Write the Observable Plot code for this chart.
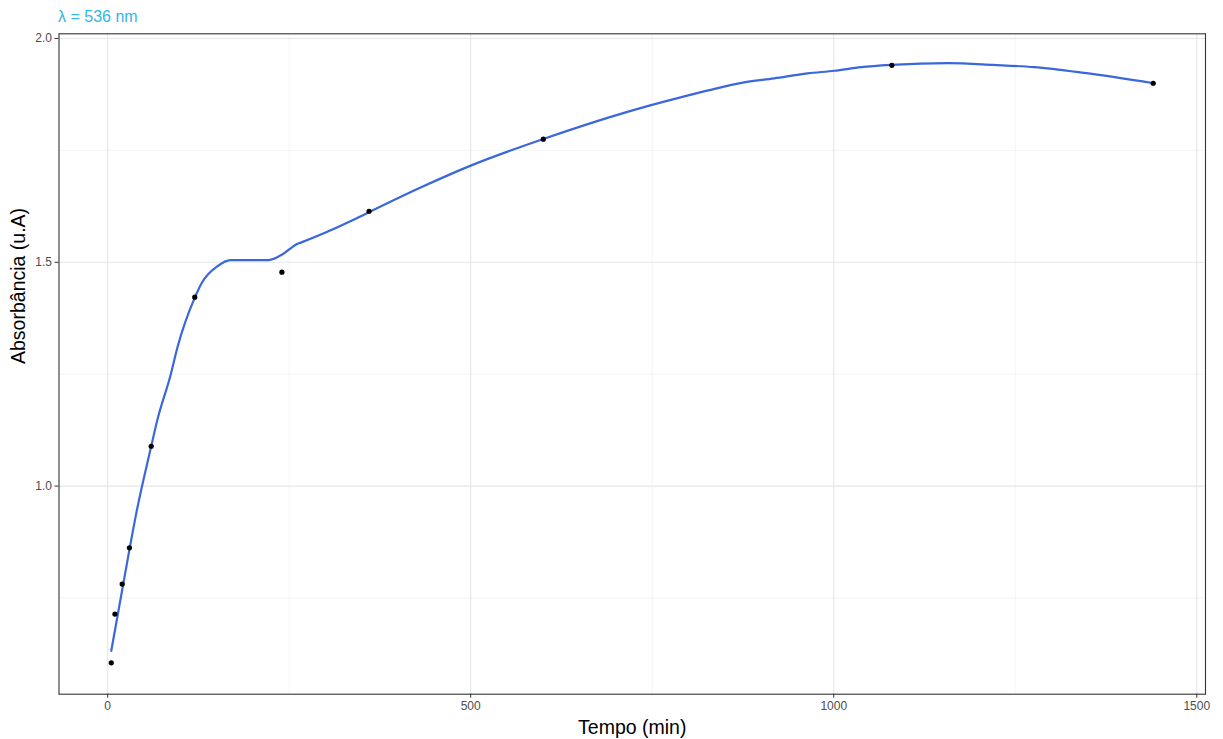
<!DOCTYPE html>
<html>
<head>
<meta charset="utf-8">
<script src="https://cdn.jsdelivr.net/npm/d3@7"></script>
<script src="https://cdn.jsdelivr.net/npm/@observablehq/plot@0.6"></script>
<style>
  html, body { margin: 0; padding: 0; background: #fff; }
  #wrap { position: relative; width: 1223px; height: 739px; }
  #title { position: absolute; left: 58px; top: 9px; font-family: "Liberation Sans", Arial, sans-serif; font-size: 16px; color: #33b5e5; line-height: 1; }
</style>
</head>
<body>
<div id="wrap"><div id="title">λ = 536 nm</div></div>
<script>
// Observed points
const tempo = [5, 10, 20, 30, 60, 120, 240, 360, 600, 1080, 1440];
const absorb = [0.605, 0.714, 0.781, 0.862, 1.089, 1.422, 1.478, 1.614, 1.775, 1.940, 1.900];

// Smooth (loess) curve
const smoothT = [5, 30, 40, 60, 68, 87, 96, 120, 130, 151, 169, 222, 241, 261, 266, 335, 355, 431, 500, 601, 735, 781, 827, 873, 918, 964, 1001, 1038, 1079, 1158, 1220, 1276, 1345, 1441];
const smoothA = [0.632, 0.858, 0.944, 1.089, 1.145, 1.250, 1.309, 1.421, 1.455, 1.491, 1.505, 1.505, 1.518, 1.541, 1.544, 1.592, 1.608, 1.667, 1.716, 1.776, 1.845, 1.865, 1.884, 1.901, 1.911, 1.922, 1.928, 1.936, 1.941, 1.945, 1.941, 1.936, 1.923, 1.900];

// Ticks and grid
const xMajor = [0, 500, 1000, 1500];
const xMinor = [250, 750, 1250];
const yMajor = [1.0, 1.5, 2.0];
const yMinor = [0.75, 1.25, 1.75];

const xTitle = ["Tempo (min)"];
const yTitle = ["Absorbância (u.A)"];

const points = tempo.map((t, i) => ({t, a: absorb[i]}));
const smooth = smoothT.map((t, i) => ({t, a: smoothA[i]}));

const chart = Plot.plot({
  width: 1223,
  height: 739,
  marginTop: 33.3,
  marginBottom: 45.3,
  marginLeft: 58.5,
  marginRight: 18,
  style: {fontFamily: "'Liberation Sans', Arial, sans-serif", background: "white"},
  x: {domain: [-67, 1512], axis: null},
  y: {domain: [0.535, 2.0105], axis: null},
  marks: [
    Plot.ruleX(xMinor, {stroke: "#ededed", strokeWidth: 0.6}),
    Plot.ruleY(yMinor, {stroke: "#ededed", strokeWidth: 0.6}),
    Plot.ruleX(xMajor, {stroke: "#e6e6e6", strokeWidth: 1.1}),
    Plot.ruleY(yMajor, {stroke: "#e6e6e6", strokeWidth: 1.1}),
    Plot.line(smooth, {x: "t", y: "a", stroke: "#3b67dd", strokeWidth: 2.2, curve: "monotone-x"}),
    Plot.dot(points, {x: "t", y: "a", r: 2.6, fill: "black", stroke: "none"}),
    Plot.frame({stroke: "#333333", strokeWidth: 1.1}),
    Plot.axisX(xMajor, {tickSize: 4, tickPadding: 3, stroke: "#333333", fill: "#4d4d4d", fontSize: 12, label: null, tickFormat: d => String(d)}),
    Plot.axisY(yMajor, {tickSize: 4, tickPadding: 3, stroke: "#333333", fill: "#4d4d4d", fontSize: 12, label: null, tickFormat: d3.format(".1f")}),
    Plot.text(xTitle, {text: d => d, frameAnchor: "bottom", dy: 34, fontSize: 19.5, fill: "black", lineAnchor: "middle"}),
    Plot.text(yTitle, {text: d => d, frameAnchor: "left", dx: -40.5, rotate: -90, fontSize: 19.5, fill: "black", lineAnchor: "middle"})
  ]
});
document.getElementById("wrap").appendChild(chart);
</script>
</body>
</html>
